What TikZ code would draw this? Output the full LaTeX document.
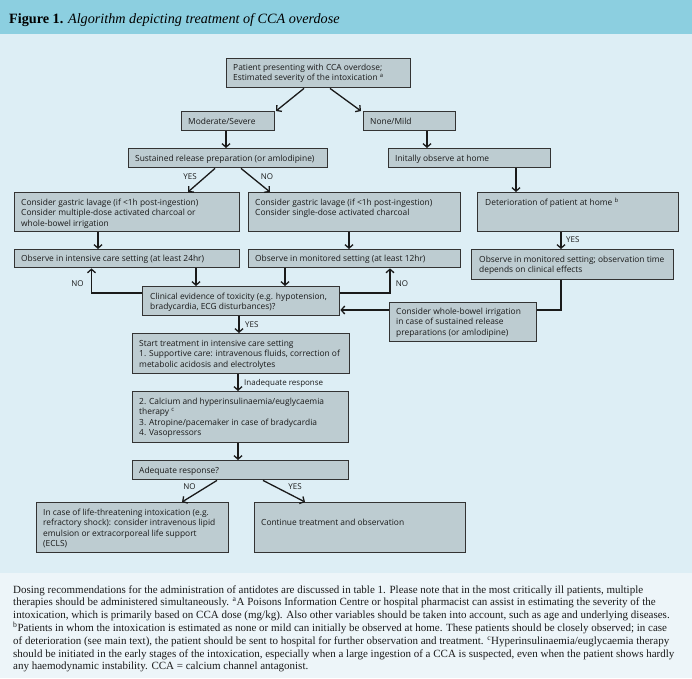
\documentclass[tikz,border=0pt]{standalone}
\usepackage{fontspec}
\setmainfont{Liberation Serif}
\newfontfamily\boxfont{Open Sans}
\usetikzlibrary{arrows.meta}
\definecolor{hdr}{HTML}{8CCFE0}
\definecolor{bodybg}{HTML}{DDEEF5}
\definecolor{capbg}{HTML}{EDF5F9}
\definecolor{boxfill}{HTML}{BDCCD1}
\definecolor{boxline}{HTML}{333333}
\definecolor{ink}{HTML}{1A1A1A}
\newcommand\mybox[5]{\node[box, anchor=north west, minimum width={#4-#2}, minimum height={#5-#3}] (#1) at (#2,#3) {};}
\newcommand\mytext[4]{\node[txt, anchor=base west] (#1) at (#2,#3) {\parbox[t]{260pt}{\raggedright #4}};}
\begin{document}
\begin{tikzpicture}[x=1pt,y=-1pt,
  box/.style={draw=boxline, fill=boxfill, line width=1.4pt, inner sep=0pt, rectangle},
  txt/.style={inner sep=0pt, text=ink, font=\boxfont\fontsize{8.4}{10.6}\selectfont},
  lbl/.style={inner sep=0pt, text=ink, font=\boxfont\fontsize{8}{10}\selectfont},
  arr/.style={draw=ink, line width=1.3pt, -{Straight Barb[length=3.5pt,width=8pt]}},
  ln/.style={draw=ink, line width=1.3pt}]
\useasboundingbox (0,0) rectangle (692,678);
\fill[bodybg] (0,0) rectangle (692,573);
\fill[hdr] (0,0) rectangle (692,34);
\fill[capbg] (0,573) rectangle (692,678);
\node[anchor=base west, inner sep=0pt, text=black, font=\fontsize{14.2}{16}\selectfont] (title) at (9,23) {\textbf{Figure 1.} \textit{Algorithm depicting treatment of CCA overdose}};
% boxes
\mybox{top}{226}{58}{410}{87}
\mybox{mod}{181}{111}{274}{130}
\mybox{none}{363}{111}{455}{130}
\mybox{sust}{128}{148}{327}{167}
\mybox{init}{388}{148}{550}{167}
\mybox{gastL}{14}{192}{239}{231}
\mybox{gastM}{248}{192}{460}{231}
\mybox{det}{477}{192}{678}{231}
\mybox{obs24}{14}{249}{239}{267}
\mybox{obs12}{248}{249}{460}{267}
\mybox{obsMon}{471}{249}{673}{279}
\mybox{clin}{142}{286}{339}{315}
\mybox{bowel}{389}{302}{536}{341}
\mybox{start}{132}{333}{349}{373}
\mybox{calc}{132}{391}{348}{442}
\mybox{adeq}{132}{460}{348}{479}
\mybox{life}{36}{502}{228}{552}
\mybox{cont}{254}{502}{465}{552}
% texts
\mytext{top-t}{233}{70}{Patient presenting with CCA overdose;\\Estimated severity of the intoxication \textsuperscript{a}}
\mytext{mod-t}{188}{124}{Moderate/Severe}
\mytext{none-t}{370}{124}{None/Mild}
\mytext{sust-t}{135}{161}{Sustained release preparation (or amlodipine)}
\mytext{init-t}{395}{161}{Initally observe at home}
\mytext{gastL-t}{21}{205}{Consider gastric lavage (if <1h post-ingestion)\\Consider multiple-dose activated charcoal or\\whole-bowel irrigation}
\mytext{gastM-t}{255}{205}{Consider gastric lavage (if <1h post-ingestion)\\Consider single-dose activated charcoal}
\mytext{det-t}{485}{205}{Deterioration of patient at home \textsuperscript{b}}
\mytext{obs24-t}{21}{261}{Observe in intensive care setting (at least 24hr)}
\mytext{obs12-t}{255}{261}{Observe in monitored setting (at least 12hr)}
\mytext{obsMon-t}{479}{262}{Observe in monitored setting; observation time\\depends on clinical effects}
\mytext{clin-t}{150}{299}{Clinical evidence of toxicity (e.g. hypotension,\\bradycardia, ECG disturbances)?}
\mytext{bowel-t}{396}{314}{Consider whole-bowel irrigation\\in case of sustained release\\preparations (or amlodipine)}
\mytext{start-t}{139}{346}{Start treatment in intensive care setting\\1. Supportive care: intravenous fluids, correction of\\metabolic acidosis and electrolytes}
\mytext{calc-t}{139}{404}{2. Calcium and hyperinsulinaemia/euglycaemia\\therapy \textsuperscript{c}\\3. Atropine/pacemaker in case of bradycardia\\4. Vasopressors}
\mytext{adeq-t}{139}{473}{Adequate response?}
\mytext{life-t}{43}{515}{In case of life-threatening intoxication (e.g.\\refractory shock): consider intravenous lipid\\emulsion or extracorporeal life support\\(ECLS)}
\mytext{cont-t}{261}{525}{Continue treatment and observation}
% connectors
\draw[arr] (top.south -| 304,0) -- (mod.north -| 276,0);
\draw[arr] (top.south -| 330,0) -- (none.north -| 361,0);
\draw[arr] (mod.south -| 226,0) -- (sust.north -| 226,0);
\draw[arr] (none.south -| 427,0) -- (init.north -| 427,0);
\draw[arr] (sust.south -| 215,0) -- (gastL.north -| 188,0);
\draw[arr] (sust.south -| 241,0) -- (gastM.north -| 270,0);
\draw[arr] (init.south -| 516,0) -- (det.north -| 516,0);
\draw[arr] (gastL.south -| 98,0) -- (obs24.north -| 98,0);
\draw[arr] (gastM.south -| 349,0) -- (obs12.north -| 349,0);
\draw[arr] (det.south -| 561,0) -- (obsMon.north -| 561,0);
\draw[arr] (obs24.south -| 196,0) -- (clin.north -| 196,0);
\draw[arr] (obs12.south -| 285,0) -- (clin.north -| 285,0);
\draw[arr] (clin.west |- 0,293) -| (obs24.south -| 91.5,0);
\draw[arr] (clin.east |- 0,293) -| (obs12.south -| 390,0);
\draw[ln] (obsMon.south -| 561,0) |- (bowel.east |- 0,310);
\draw[arr] (bowel.west |- 0,310) -- (clin.east |- 0,310);
\draw[arr] (clin.south -| 239,0) -- (start.north -| 239,0);
\draw[arr] (start.south -| 238,0) -- (calc.north -| 238,0);
\draw[arr] (calc.south -| 238,0) -- (adeq.north -| 238,0);
\draw[arr] (adeq.south -| 217,0) -- (life.north -| 182,0);
\draw[arr] (adeq.south -| 263,0) -- (cont.north -| 305,0);
% labels
\node[lbl, anchor=base] (l1) at (190,179) {YES};
\node[lbl, anchor=base] (l2) at (267,179) {NO};
\node[lbl, anchor=base west] (l3) at (566,242) {YES};
\node[lbl, anchor=base] (l4) at (77.5,286) {NO};
\node[lbl, anchor=base] (l5) at (402,286) {NO};
\node[lbl, anchor=base west] (l6) at (245,327) {YES};
\node[lbl, anchor=base west] (l7) at (244,385) {Inadequate response};
\node[lbl, anchor=base] (l8) at (189.5,489) {NO};
\node[lbl, anchor=base] (l9) at (295,489) {YES};
% caption
\node[anchor=base west, inner sep=0pt, text=ink, font=\fontsize{11}{12.8}\selectfont] (cap) at (13,593) {\parbox[t]{680pt}{\raggedright
Dosing recommendations for the administration of antidotes are discussed in table 1. Please note that in the most critically ill patients, multiple\\
therapies should be administered simultaneously. \textsuperscript{a}A Poisons Information Centre or hospital pharmacist can assist in estimating the severity of the\\
intoxication, which is primarily based on CCA dose (mg/kg). Also other variables should be taken into account, such as age and underlying diseases.\\
\textsuperscript{b}Patients in whom the intoxication is estimated as none or mild can initially be observed at home. These patients should be closely observed; in case\\
of deterioration (see main text), the patient should be sent to hospital for further observation and treatment. \textsuperscript{c}Hyperinsulinaemia/euglycaemia therapy\\
should be initiated in the early stages of the intoxication, especially when a large ingestion of a CCA is suspected, even when the patient shows hardly\\
any haemodynamic instability. CCA = calcium channel antagonist.}};
\end{tikzpicture}
\end{document}
